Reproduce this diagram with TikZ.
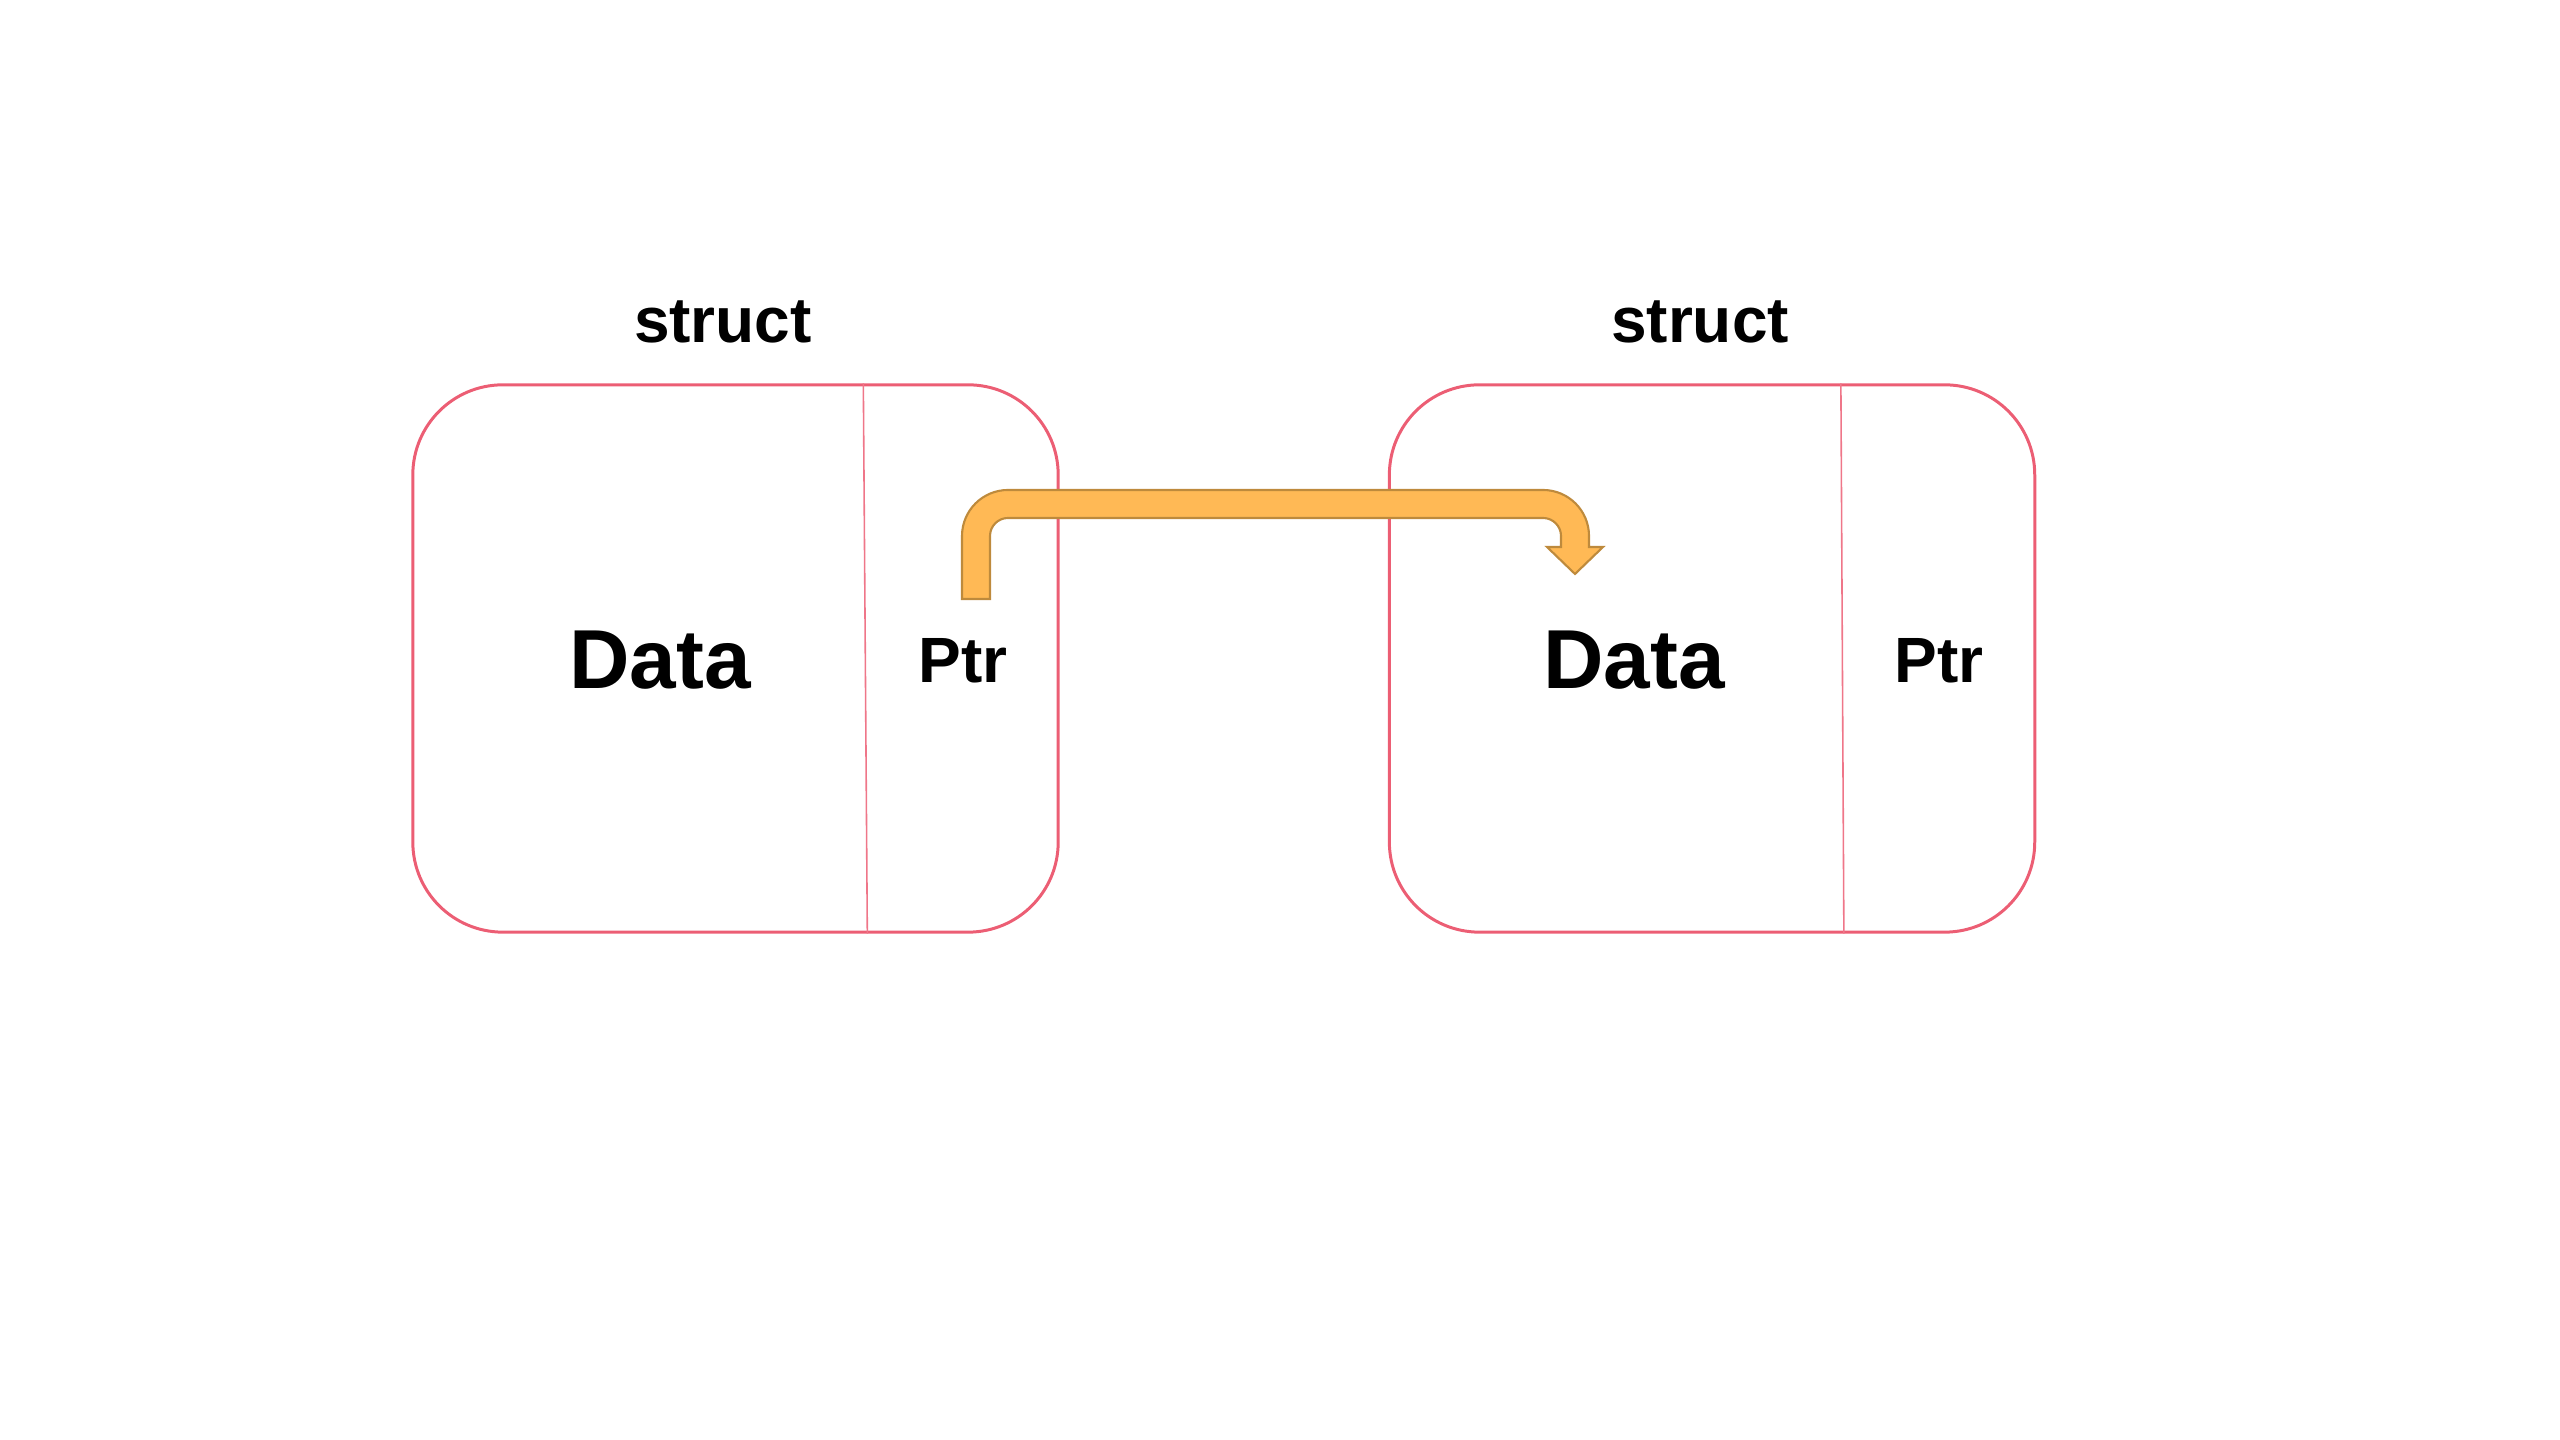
\documentclass[tikz,border=0pt]{standalone}
\usepackage{fontspec}
\setmainfont{Liberation Sans}
\usetikzlibrary{positioning, calc}
\definecolor{boxred}{RGB}{236,94,116}
\definecolor{arrowfill}{RGB}{255,185,85}
\definecolor{arrowline}{RGB}{190,138,60}
\tikzstyle{structbox} = [rectangle, rounded corners=0.9cm, draw=boxred, line width=0.85pt, minimum width=6.45cm, minimum height=5.47cm]
\tikzstyle{divider} = [draw=boxred!85, line width=0.45pt]
\tikzstyle{title} = [font=\fontsize{18.2}{22}\selectfont\bfseries]
\tikzstyle{datatext} = [font=\fontsize{23.8}{29}\selectfont\bfseries]
\tikzstyle{ptrtext} = [font=\fontsize{18.2}{22}\selectfont\bfseries]
\tikzstyle{ptrarrow} = [fill=arrowfill, draw=arrowline, line width=0.6pt, line join=miter]

\begin{document}
\begin{tikzpicture}[x=0.01cm, y=0.01cm]
        \useasboundingbox (0,0) rectangle (2560,1440);
        \node (box_a) [structbox] at (735.5,781.5) {};
        \node (box_b) [structbox, right=3.28cm of box_a] {};
        \draw[divider] ($(box_a.north west)+(452,0)$) -- ($(box_a.south west)+(456,0)$);
        \draw[divider] ($(box_b.north west)+(453,0)$) -- ($(box_b.south west)+(456,0)$);

        \node (struct_a) [title] at (723,1118) {struct};
        \node (struct_b) [title] at (1700,1118) {struct};
        \node (data_a) [datatext] at (660,780) {Data};
        \node (ptr_a) [ptrtext] at (963,779) {Ptr};
        \node (data_b) [datatext] at (1634,780) {Data};
        \node (ptr_b) [ptrtext] at (1939,779) {Ptr};

        % pointer arrow
        \draw[ptrarrow] (962,841) -- (962,904) arc[start angle=180, end angle=90, radius=46]
            -- (1543,950) arc[start angle=90, end angle=0, radius=46]
            -- (1589,893) -- (1603,893) -- (1575,866) -- (1547,893) -- (1561,893)
            -- (1561,904) arc[start angle=0, end angle=90, radius=18]
            -- (1008,922) arc[start angle=90, end angle=180, radius=18]
            -- (990,841) -- cycle;
    \end{tikzpicture}
\end{document}
